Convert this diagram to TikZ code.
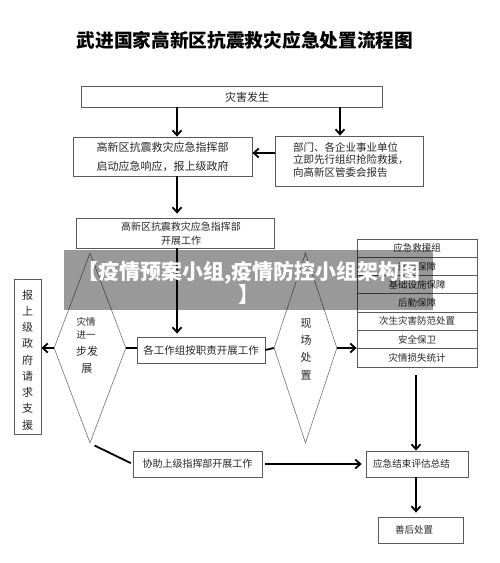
\documentclass[tikz,border=0pt]{standalone}
\usepackage{fontspec}
\setmainfont{Noto Sans CJK SC}
\usetikzlibrary{arrows.meta,shapes.geometric}
\begin{document}
\begin{tikzpicture}[x=1pt,y=-1pt,
  box/.style={draw=black!65, line width=0.8pt, fill=white, inner sep=0pt, rectangle, text=black!85},
  dia/.style={draw=black!55, line width=0.6pt, diamond, inner sep=0pt},
  txt/.style={inner sep=0pt, text=black!85},
  arr/.style={line width=1.8pt, -{Straight Barb[length=5pt,width=9pt]}},
  link/.style={line width=1.8pt},
  rowbox/.style={box, minimum width=120pt, minimum height=18.286pt, font=\fontsize{9.5}{11}\selectfont}
]
\useasboundingbox (0,0) rectangle (500,563);
\fill[white] (0,0) rectangle (500,563);

% title
\node[txt, font=\fontsize{18.7}{20}\selectfont\bfseries, text=black] (title) at (245,40) {武进国家高新区抗震救灾应急处置流程图};

% boxes
\node[box, minimum width=301pt, minimum height=21pt] (b1) at (231.5,96.5) {};
\node[txt, font=\fontsize{11}{13}\selectfont] (t1) at (247,97) {灾害发生};

\node[box, minimum width=179pt, minimum height=39pt, align=center, font=\fontsize{11}{19}\selectfont] (b2) at (162.5,156.5) {高新区抗震救灾应急指挥部\\启动应急响应，报上级政府};

\node[box, minimum width=148pt, minimum height=50pt] (b3) at (349,161) {};
\node[txt, anchor=west, align=left, font=\fontsize{10.5}{12.5}\selectfont] (t3) at (293,160) {部门、各企业事业单位\\立即先行组织抢险救援，\\向高新区管委会报告};

\node[box, minimum width=198pt, minimum height=30pt] (b4) at (175,233) {};
\node[txt, align=center, font=\fontsize{10}{14}\selectfont] (t4) at (181,234) {高新区抗震救灾应急指挥部\\开展工作};

\node[box, minimum width=128pt, minimum height=26pt, font=\fontsize{10.5}{12}\selectfont] (b5) at (201,350) {各工作组按职责开展工作};
\node[box, minimum width=129pt, minimum height=26pt, font=\fontsize{10}{12}\selectfont] (b6) at (197.5,464) {协助上级指挥部开展工作};

\node[box, minimum width=102pt, minimum height=26pt] (b7) at (417,464) {};
\node[txt, font=\fontsize{9.6}{11}\selectfont] (t7) at (411.5,464) {应急结束评估总结};

\node[box, minimum width=85pt, minimum height=26pt] (b8) at (420.5,530) {};
\node[txt, font=\fontsize{9.5}{11}\selectfont] (t8) at (414,530) {善后处置};

\node[box, minimum width=27pt, minimum height=155pt] (lb) at (27.5,356.5) {};
\node[txt, align=center, font=\fontsize{11}{16.25}\selectfont] (tlb) at (27.5,360) {报\\上\\级\\政\\府\\请\\求\\支\\援};

% list box
\node[box, minimum width=120pt, minimum height=128pt] (lst) at (417,303) {};
\node[rowbox] (r1) at (417,248.14) {应急救援组};
\node[rowbox] (r2) at (417,266.43) {通信保障};
\node[rowbox] (r3) at (417,284.71) {基础设施保障};
\node[rowbox] (r4) at (417,303) {后勤保障};
\node[rowbox] (r5) at (417,321.29) {次生灾害防范处置};
\node[rowbox] (r6) at (417,339.57) {安全保卫};
\node[rowbox] (r7) at (417,357.86) {灾情损失统计};

% diamonds
\node[dia, minimum width=72pt, minimum height=190pt] (ld) at (90,348) {};
\node[txt, align=center, font=\fontsize{9.5}{13}\selectfont] (tld1) at (86,328.5) {灾情\\进一};
\node[txt, align=center, font=\fontsize{11}{17}\selectfont] (tld2) at (87,359.5) {步发\\展};

\node[dia, minimum width=63pt, minimum height=190pt] (rd) at (305.5,348) {};
\node[txt, align=center, font=\fontsize{11}{17.3}\selectfont] (trd) at (306,349) {现\\场\\处\\置};

% connectors
\coordinate (xa) at (177,0);
\coordinate (xb) at (340,0);
\coordinate (xc) at (416,0);
\coordinate (ya) at (0,153);
\draw[arr] (b1.south -| xa) -- (b2.north -| xa);
\draw[arr] (b1.south -| xb) -- (b3.north -| xb);
\draw[arr] (b3.west |- ya) -- (b2.east |- ya);
\draw[arr, shorten >=4pt] (b2.south -| xa) -- (b4.north -| xa);
\draw[arr, shorten >=3pt] (b4.south -| xa) -- (b5.north -| xa);
\draw[link] (ld.east) -- (b5.west |- ld.east);
\draw[arr] (ld.west) -- (lb.east |- ld.west);
\draw[link, shorten <=5pt, shorten >=2pt] (ld.south) -- (b6.west);
\draw[link] (b5.east) -- (rd.west);
\draw[arr] (rd.east) -- (rd.east -| lst.west);
\draw[arr, shorten <=8pt] (lst.south -| xc) -- (b7.north -| xc);
\draw[arr, shorten <=3pt, shorten >=4pt] (b6.east) -- (b7.west);
\draw[arr, shorten >=4pt] (b7.south -| xc) -- (b8.north -| xc);

% watermark band
\node[fill=black, fill opacity=0.4, minimum width=369pt, minimum height=60pt, inner sep=0pt] (wm) at (248.5,280) {};
\node[txt, text=white, align=center, font=\fontsize{21}{23}\selectfont\bfseries] (wmt) at (249,283) {【疫情预案小组,疫情防控小组架构图\\】};
\end{tikzpicture}
\end{document}
